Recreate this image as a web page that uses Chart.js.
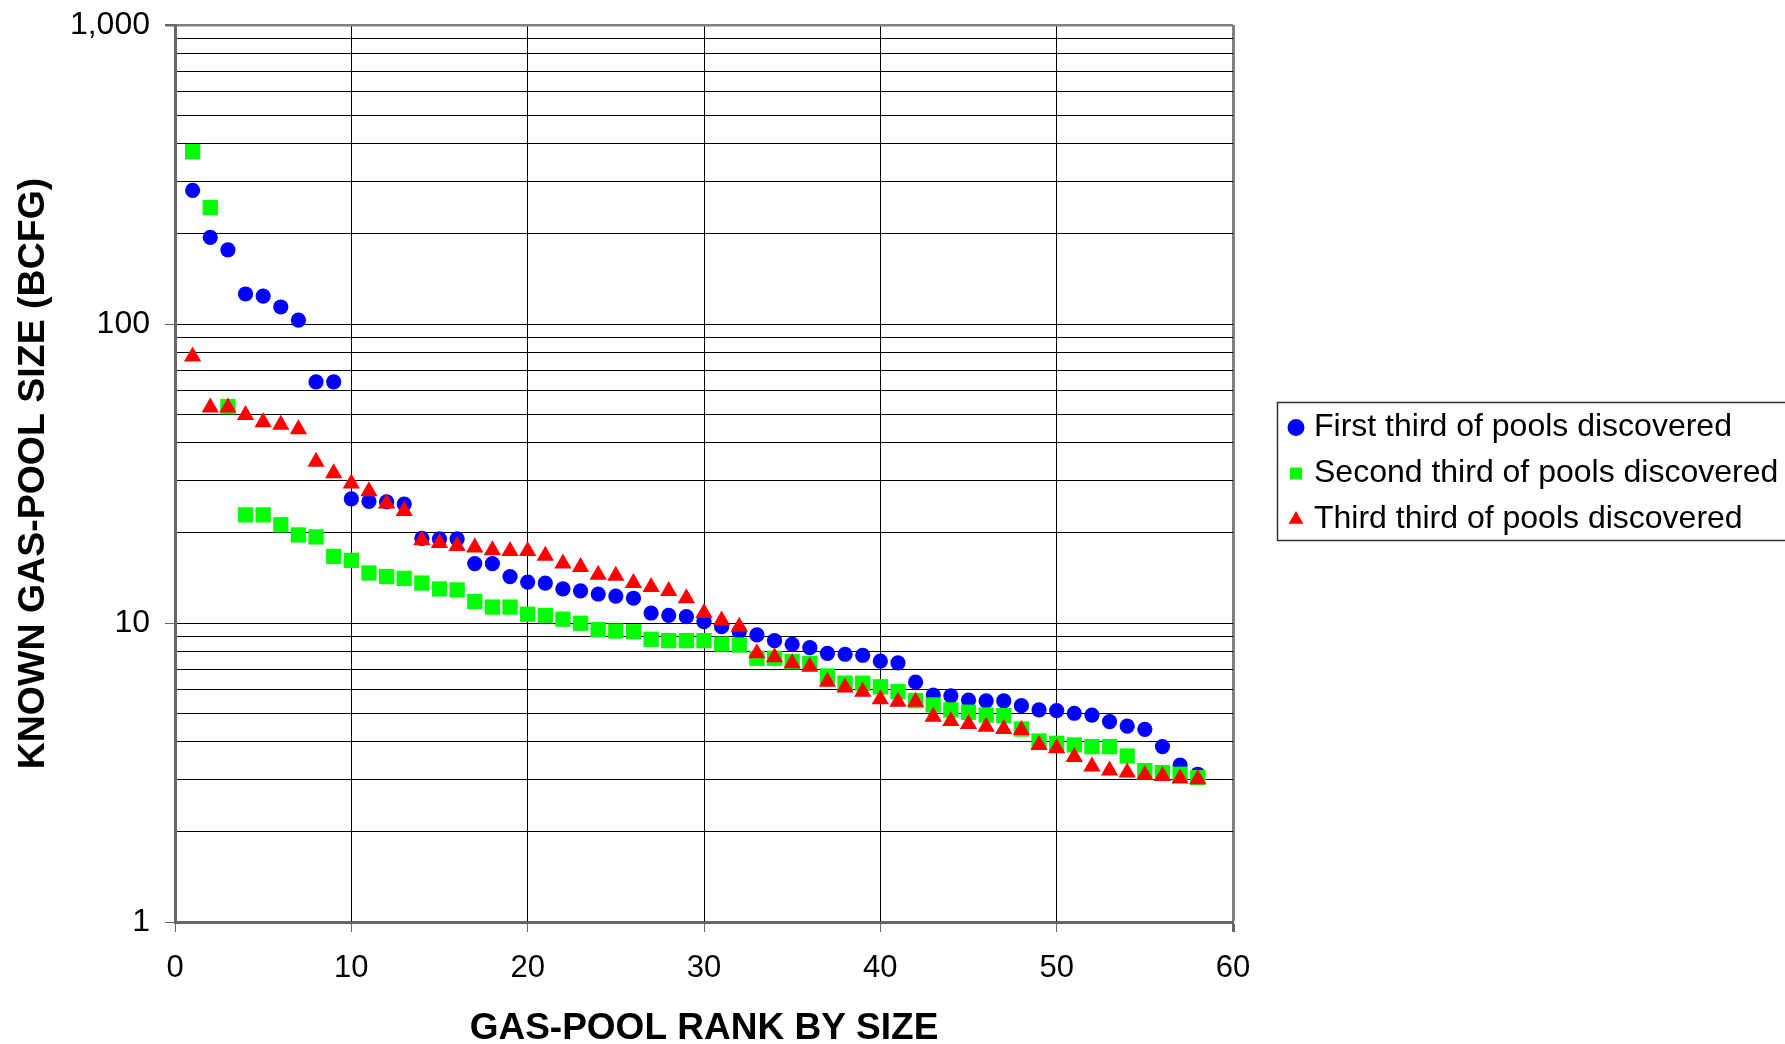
<!DOCTYPE html>
<html>
<head>
<meta charset="utf-8">
<script src="https://cdn.jsdelivr.net/npm/chart.js@4/dist/chart.umd.min.js"></script>
<style>
    html, body { margin: 0; padding: 0; background: #fff; }
    #wrap { width: 1785px; height: 1044px; position: relative; }
</style>
</head>
<body>
<div id="wrap"><canvas id="poolChart"></canvas></div>
<script>
var ranks = [1, 2, 3, 4, 5, 6, 7, 8, 9, 10, 11, 12, 13, 14, 15, 16, 17, 18, 19, 20,
    21, 22, 23, 24, 25, 26, 27, 28, 29, 30, 31, 32, 33, 34, 35, 36, 37, 38, 39, 40,
    41, 42, 43, 44, 45, 46, 47, 48, 49, 50, 51, 52, 53, 54, 55, 56, 57, 58];

var firstThird = [280, 195, 177, 126, 124, 114, 103, 64, 64, 26.0,
    25.5, 25.4, 25.0, 19.2, 19.1, 19.1, 15.8, 15.8, 14.3, 13.7,
    13.6, 13.0, 12.8, 12.5, 12.3, 12.1, 10.8, 10.6, 10.5, 10.1,
    9.72, 9.35, 9.12, 8.73, 8.49, 8.27, 7.92, 7.86, 7.80, 7.46,
    7.36, 6.34, 5.74, 5.71, 5.52, 5.49, 5.49, 5.29, 5.12, 5.09,
    4.99, 4.92, 4.68, 4.52, 4.41, 3.86, 3.35, 3.12];

var secondThird = [377, 245, 52.9, 23.0, 23.0, 21.3, 19.7, 19.4, 16.7, 16.2,
    14.7, 14.3, 14.1, 13.6, 13.0, 12.9, 11.8, 11.3, 11.3, 10.7,
    10.6, 10.3, 9.98, 9.5, 9.4, 9.35, 8.82, 8.73, 8.73, 8.73,
    8.5, 8.44, 7.62, 7.62, 7.42, 7.33, 6.65, 6.29, 6.29, 6.12,
    5.89, 5.50, 5.32, 5.12, 5.03, 4.92, 4.90, 4.42, 4.03, 3.96,
    3.91, 3.86, 3.86, 3.59, 3.21, 3.16, 3.12, 3.04];

var thirdThird = [77.8, 52.6, 52.6, 49.6, 46.9, 46.0, 44.5, 34.6, 31.7, 29.3,
    27.6, 25.1, 23.7, 18.9, 18.5, 18.1, 17.9, 17.5, 17.4, 17.4,
    16.8, 15.8, 15.4, 14.5, 14.4, 13.6, 13.2, 12.8, 12.1, 10.8,
    10.2, 9.72, 7.92, 7.68, 7.33, 7.14, 6.36, 6.09, 5.89, 5.56,
    5.45, 5.45, 4.86, 4.70, 4.59, 4.50, 4.42, 4.39, 3.91, 3.81,
    3.56, 3.31, 3.21, 3.16, 3.10, 3.08, 3.02, 3.00];

var seriesNames = ['First third of pools discovered',
    'Second third of pools discovered',
    'Third third of pools discovered'];

var xTickValues = [0, 10, 20, 30, 40, 50, 60];
var yTickValues = [1, 10, 100, 1000];
var yTickLabels = ['1', '10', '100', '1,000'];

Chart.defaults.font.family = "'Liberation Sans', Arial, sans-serif";
Chart.defaults.color = '#000';

function toPoints(values)
{
    return values.map(function(v, i) { return {x: ranks[i], y: v}; });
}

// every 1..9 step of each decade gets a grid line
function logGridValues()
{
    var vals = [];
    for (var d = 1; d < 1000; d *= 10)
        for (var m = 1; m < 10; m++)
            vals.push(m * d);
    vals.push(1000);
    return vals;
}

var legendBorder = {
    id: 'legendBorder',
    afterDraw: function(chart) {
        var lg = chart.legend;
        var boxes = lg.legendHitBoxes;
        if (!boxes || !boxes.length) return;
        var last = boxes[boxes.length - 1];
        var top = boxes[0].top - 9;
        var bottom = last.top + last.height + 5;
        var ctx = chart.ctx;
        ctx.save();
        ctx.strokeStyle = '#333';
        ctx.lineWidth = 1.5;
        ctx.strokeRect(lg.left - 2.5, top, chart.width, bottom - top);
        ctx.restore();
    }
};

function makeDataset(label, values, color, style, radius, order)
{
    return {
        label: label,
        data: toPoints(values),
        backgroundColor: color,
        borderColor: color,
        pointStyle: style,
        pointRadius: radius,
        pointHoverRadius: radius,
        pointBorderWidth: 0,
        showLine: false,
        order: order
    };
}

new Chart(document.getElementById('poolChart'), {
    type: 'scatter',
    data: {
        datasets: [
            makeDataset(seriesNames[0], firstThird, '#0000ff', 'circle', 7.6, 3),
            makeDataset(seriesNames[1], secondThird, '#00ff00', 'rect', 10.8, 2),
            makeDataset(seriesNames[2], thirdThird, '#ff0000', 'triangle', 10, 1)
        ]
    },
    options: {
        responsive: true,
        maintainAspectRatio: false,
        animation: false,
        layout: { padding: { top: 25, right: 1, bottom: 0, left: 0 } },
        plugins: {
            tooltip: { enabled: false },
            legend: {
                position: 'right',
                align: 'center',
                fullSize: false,
                maxWidth: 504,
                labels: {
                    usePointStyle: true,
                    boxWidth: 4,
                    boxHeight: 12,
                    padding: 14,
                    color: '#000',
                    font: { size: 32 },
                    sort: function(a, b) { return a.datasetIndex - b.datasetIndex; }
                }
            }
        },
        scales: {
            x: {
                type: 'linear',
                min: 0,
                max: 60,
                afterBuildTicks: function(scale) {
                    scale.ticks = xTickValues.map(function(v) { return {value: v}; });
                },
                afterFit: function(scale) { scale.height = 122; },
                border: { display: true, color: '#666', width: 3 },
                grid: {
                    color: function(c) {
                        if (!c.tick || c.tick.value == 0) return 'rgba(0,0,0,0)';
                        return c.tick.value == 60 ? '#808080' : '#000';
                    },
                    lineWidth: function(c) {
                        return (c.tick && c.tick.value == 60) ? 3 : 1;
                    },
                    tickColor: '#666',
                    tickLength: 10
                },
                ticks: {
                    padding: 18,
                    font: { size: 31 },
                    color: '#000',
                    autoSkip: false
                },
                title: {
                    display: true,
                    text: 'GAS-POOL RANK BY SIZE',
                    color: '#000',
                    font: { size: 37, weight: 'bold', lineHeight: 0.8 },
                    padding: { top: 0, bottom: 0 }
                }
            },
            y: {
                type: 'logarithmic',
                min: 1,
                max: 1000,
                afterBuildTicks: function(scale) {
                    scale.ticks = logGridValues().map(function(v) {
                        return {value: v, major: yTickValues.indexOf(v) >= 0};
                    });
                },
                afterFit: function(scale) {
                    scale.width = 175;
                    scale.paddingTop = 0;
                    scale.paddingBottom = 0;
                },
                border: { display: true, color: '#666', width: 3 },
                grid: {
                    color: function(c) {
                        if (!c.tick || c.tick.value == 1) return 'rgba(0,0,0,0)';
                        return c.tick.value == 1000 ? '#808080' : '#000';
                    },
                    lineWidth: function(c) {
                        return (c.tick && c.tick.value == 1000) ? 2.5 : 1;
                    },
                    tickColor: function(c) {
                        return (c.tick && yTickValues.indexOf(c.tick.value) >= 0) ? '#666' : 'rgba(0,0,0,0)';
                    },
                    tickLength: 10
                },
                ticks: {
                    padding: 15,
                    font: { size: 32 },
                    color: '#000',
                    autoSkip: false,
                    callback: function(value) {
                        var i = yTickValues.indexOf(value);
                        return i >= 0 ? yTickLabels[i] : '';
                    }
                },
                title: {
                    display: true,
                    text: 'KNOWN GAS-POOL SIZE (BCFG)',
                    color: '#000',
                    font: { size: 37.5, weight: 'bold', lineHeight: 1 },
                    padding: { top: 15, bottom: 0 }
                }
            },
            pad: {
                type: 'linear',
                position: 'right',
                display: true,
                grid: { display: false },
                border: { display: false },
                ticks: { display: false },
                afterFit: function(scale) { scale.width = 47; }
            }
        }
    },
    plugins: [legendBorder]
});
</script>
</body>
</html>
